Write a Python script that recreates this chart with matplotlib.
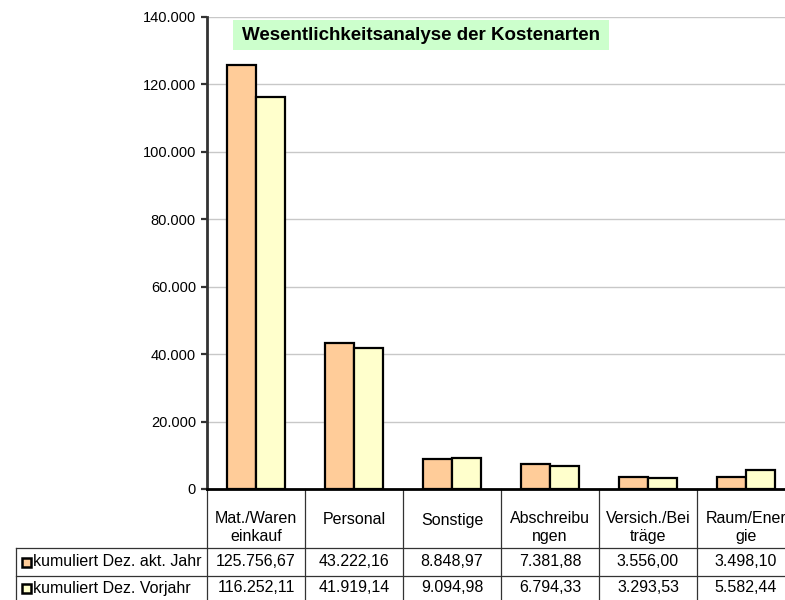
import matplotlib
matplotlib.use("Agg")
import matplotlib.pyplot as plt
from matplotlib.patches import Rectangle
from matplotlib.ticker import FuncFormatter
import numpy as np

plt.rcParams['font.family'] = ['Liberation Sans', 'DejaVu Sans']
plt.rcParams['savefig.bbox'] = 'standard'

categories = ["Mat./Waren\neinkauf", "Personal", "Sonstige", "Abschreibu\nngen",
              "Versich./Bei\nträge", "Raum/Ener\ngie"]
series_names = ["kumuliert Dez. akt. Jahr", "kumuliert Dez. Vorjahr"]
akt_jahr = [125756.67, 43222.16, 8848.97, 7381.88, 3556.00, 3498.10]
vorjahr = [116252.11, 41919.14, 9094.98, 6794.33, 3293.53, 5582.44]
yticks = [0, 20000, 40000, 60000, 80000, 100000, 120000, 140000]
title = "Wesentlichkeitsanalyse der Kostenarten"
colors = ["#FFCC99", "#FFFFCC"]


def de_int(v):
    return f"{int(v):,}".replace(",", ".")


def de_num(v):
    s = f"{v:,.2f}"
    return s.replace(",", "X").replace(".", ",").replace("X", ".")


W, H = 785, 600
fig = plt.figure(figsize=(W / 100, H / 100), dpi=100)
ax_left, ax_right, ax_top, ax_bottom = 207, 795, 17, 489
ax = fig.add_axes([ax_left / W, (H - ax_bottom) / H,
                   (ax_right - ax_left) / W, (ax_bottom - ax_top) / H])

x = np.arange(len(categories))
bw = 0.3
ax.bar(x - bw / 2, akt_jahr, bw, color=colors[0], edgecolor="black", linewidth=1.6, zorder=3)
ax.bar(x + bw / 2, vorjahr, bw, color=colors[1], edgecolor="black", linewidth=1.6, zorder=3)

ax.set_xlim(-0.5, len(categories) - 0.5)
ax.set_ylim(0, 140000)
ax.set_yticks(yticks)
ax.yaxis.set_major_formatter(FuncFormatter(lambda v, p: de_int(v)))
ax.set_xticks([])
ax.tick_params(axis='y', length=4, width=1.6, color="#333333", labelsize=10.5, pad=4)
ax.grid(axis='y', color="#c8c8c8", linewidth=1.0, zorder=0)
for s in ["top", "right"]:
    ax.spines[s].set_visible(False)
ax.spines["left"].set_linewidth(2)
ax.spines["left"].set_color("#333333")
ax.spines["bottom"].set_linewidth(2)
ax.spines["bottom"].set_color("black")
ax.spines["bottom"].set_zorder(4)

# title box
fig.patches.append(Rectangle((233 / W, 1 - 50 / H), (609 - 233) / W, 30 / H,
                             transform=fig.transFigure, facecolor="#CCFFCC",
                             edgecolor="none", zorder=5))
fig.text((233 + 609) / 2 / W, 1 - 35.5 / H, title, ha="center", va="center",
         fontsize=13.5, fontweight="bold", zorder=6)

# data table below axes
tr = ax.get_xaxis_transform()
ah = ax_bottom - ax_top


def ya(py):
    return (ax_bottom - py) / ah


row_tops = [548, 576]
row_bot = 605
left_px = 16
left_x = (left_px - ax_left) / 98.0 - 0.5
line_kw = dict(color="#333333", linewidth=0.9, clip_on=False, transform=tr, zorder=1)

for b in np.arange(len(categories) + 1) - 0.5:
    ax.plot([b, b], [0, ya(row_bot)], **line_kw)
ax.plot([left_x, left_x], [ya(row_tops[0]), ya(row_bot)], **line_kw)
for rt in row_tops:
    ax.plot([left_x, len(categories) - 0.5], [ya(rt), ya(rt)], **line_kw)

for i, c in enumerate(categories):
    lines = c.split("\n")
    if len(lines) == 1:
        ax.text(i, ya(520), lines[0], transform=tr, ha="center", va="center",
                fontsize=11.5, clip_on=False)
    else:
        for j, ln in enumerate(lines):
            ax.text(i, ya(518.5 + 18 * j), ln, transform=tr, ha="center", va="center",
                    fontsize=11.5, clip_on=False)

rows = [akt_jahr, vorjahr]
row_centers = [562, 588]
for r, (vals, name, col, yc) in enumerate(zip(rows, series_names, colors, row_centers)):
    for i, v in enumerate(vals):
        ax.text(i, ya(yc), de_num(v), transform=tr, ha="center", va="center",
                fontsize=11.5, clip_on=False)
    # legend key
    fig.patches.append(Rectangle((22 / W, 1 - (yc + 4.5) / H), 9 / W, 9 / H,
                                 transform=fig.transFigure, facecolor=col,
                                 edgecolor="black", linewidth=1.8))
    fig.text(33 / W, 1 - yc / H, name, ha="left", va="center", fontsize=11.5)

fig.savefig("out.png", dpi=100)
